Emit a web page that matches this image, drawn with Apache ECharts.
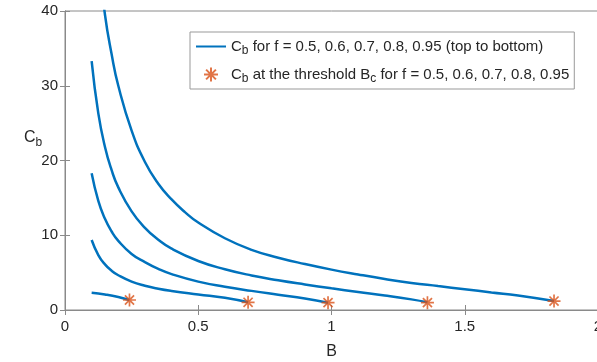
<!DOCTYPE html>
<html>
<head>
<meta charset="utf-8">
<script src="https://cdn.jsdelivr.net/npm/echarts@6/dist/echarts.min.js"></script>
<style>
  html, body { margin: 0; padding: 0; background: #fff; }
  #chart { width: 597px; height: 362px; }
</style>
</head>
<body>
<div id="chart"></div>
<script>
// Cb versus B, one curve per f value (0.5, 0.6, 0.7, 0.8, 0.95)
const curveF05 = [[0.10, 59], [0.125, 47.5], [0.15, 39.5], [0.175, 34.2], [0.2, 30.0], [0.25, 24.0],
  [0.3, 19.8], [0.35, 16.9], [0.4, 14.8], [0.45, 13.1], [0.5, 11.7], [0.6, 9.6], [0.7, 8.05],
  [0.8, 7.0], [0.9, 6.15], [1.0, 5.4], [1.1, 4.75], [1.2, 4.15], [1.3, 3.62], [1.4, 3.2],
  [1.5, 2.78], [1.6, 2.35], [1.7, 1.95], [1.835, 1.2]];
const curveF06 = [[0.10, 33.3], [0.125, 26.3], [0.15, 21.8], [0.175, 18.7], [0.2, 16.4], [0.25, 13.2],
  [0.3, 11.0], [0.35, 9.4], [0.4, 8.2], [0.5, 6.56], [0.6, 5.45], [0.7, 4.62], [0.8, 3.98],
  [0.9, 3.42], [1.0, 2.9], [1.1, 2.42], [1.2, 1.95], [1.3, 1.42], [1.36, 1.03]];
const curveF07 = [[0.10, 18.3], [0.125, 14.6], [0.15, 12.2], [0.175, 10.5], [0.2, 9.25], [0.25, 7.5],
  [0.3, 6.4], [0.35, 5.5], [0.4, 4.8], [0.5, 3.8], [0.6, 3.12], [0.7, 2.56], [0.8, 2.05],
  [0.9, 1.55], [0.987, 0.98]];
const curveF08 = [[0.10, 9.36], [0.125, 7.35], [0.15, 6.1], [0.175, 5.25], [0.2, 4.65], [0.25, 3.8],
  [0.3, 3.25], [0.35, 2.85], [0.4, 2.55], [0.5, 2.08], [0.6, 1.63], [0.687, 1.03]];
const curveF095 = [[0.10, 2.3], [0.15, 2.08], [0.2, 1.75], [0.242, 1.34]];

// Cb at the threshold Bc for each f
const thresholdB = [0.242, 0.687, 0.987, 1.36, 1.835];
const thresholdCb = [1.34, 1.03, 0.98, 0.98, 1.2];

const xTicks = [0, 0.5, 1, 1.5, 2];
const yTicks = [0, 10, 20, 30, 40];

const blue = '#0072BD';
const orange = '#D95319';
const axisGray = '#8a8a8a';
const textDark = '#262626';
const font = 'Liberation Sans, Arial, Helvetica, sans-serif';

const curves = [curveF05, curveF06, curveF07, curveF08, curveF095];
const thresholdPoints = thresholdB.map((b, i) => [b, thresholdCb[i]]);

const asterisk = 'path://M0,-10L0,10M-10,0L10,0M-7,-7L7,7M-7,7L7,-7';

const chart = echarts.init(document.getElementById('chart'), null, { renderer: 'canvas' });

const lineSeries = curves.map(data => ({
  name: 'curves',
  type: 'line',
  data: data,
  smooth: 0.5,
  symbol: 'none',
  clip: true,
  lineStyle: { color: blue, width: 2.5 },
  itemStyle: { color: blue },
  silent: true,
  z: 2
}));

const option = {
  backgroundColor: '#ffffff',
  animation: false,
  grid: {
    left: 65, right: -1, top: 11, bottom: 52,
    outerBoundsMode: 'none', containLabel: false,
    show: true, borderColor: axisGray, borderWidth: 1, backgroundColor: 'transparent'
  },
  xAxis: [{
    type: 'value', min: 0, max: 2, interval: 0.5, position: 'bottom',
    axisLine: { show: true, onZero: false, lineStyle: { color: axisGray, width: 1 } },
    axisTick: { show: true, inside: true, length: 5, lineStyle: { color: axisGray } },
    axisLabel: { margin: 9, color: textDark, fontSize: 15, fontFamily: font,
      formatter: v => xTicks.includes(v) ? String(v) : '' },
    splitLine: { show: false },
    name: 'B', nameLocation: 'middle', nameGap: 34,
    nameTextStyle: { color: textDark, fontSize: 16, fontFamily: font }
  }, {
    type: 'value', min: 0, max: 2, interval: 0.5, position: 'top',
    axisLine: { show: true, lineStyle: { color: axisGray, width: 1 } },
    axisTick: { show: true, inside: true, length: 5, lineStyle: { color: axisGray } },
    axisLabel: { show: false },
    splitLine: { show: false }
  }],
  yAxis: [{
    type: 'value', min: 0, max: 40, interval: 10, position: 'left',
    axisLine: { show: true, onZero: false, lineStyle: { color: axisGray, width: 1 } },
    axisTick: { show: true, inside: true, length: 5, lineStyle: { color: axisGray } },
    axisLabel: { margin: 7, color: textDark, fontSize: 15, fontFamily: font,
      formatter: v => yTicks.includes(v) ? String(v) : '' },
    splitLine: { show: false }
  }, {
    type: 'value', min: 0, max: 40, interval: 10, position: 'right',
    axisLine: { show: true, lineStyle: { color: axisGray, width: 1 } },
    axisTick: { show: true, inside: true, length: 5, lineStyle: { color: axisGray } },
    axisLabel: { show: false },
    splitLine: { show: false }
  }],
  legend: {
    orient: 'vertical',
    left: 190, top: 32,
    padding: [4, 5, 4, 5],
    itemGap: 7,
    itemWidth: 30, itemHeight: 14,
    borderColor: '#999', borderWidth: 1,
    backgroundColor: '#fff',
    data: [
      { name: 'curves', itemStyle: { color: 'rgba(0,0,0,0)', borderWidth: 0, opacity: 0 } },
      { name: 'threshold' }
    ],
    selectedMode: false,
    formatter: name => name === 'curves'
      ? '{n|C}{s|b}{n| for f = 0.5, 0.6, 0.7, 0.8, 0.95 (top to bottom)}'
      : '{n|C}{s|b}{n| at the threshold B}{s|c}{n| for f = 0.5, 0.6, 0.7, 0.8, 0.95}',
    textStyle: {
      color: textDark, fontFamily: font, fontSize: 15,
      rich: {
        n: { fontSize: 15, fontFamily: font, color: textDark, lineHeight: 17 },
        s: { fontSize: 12, fontFamily: font, color: textDark, lineHeight: 12, padding: [9, 0, 0, 0] }
      }
    }
  },
  graphic: [{
    type: 'text', left: 24, top: 126,
    style: {
      text: '{n|C}{s|b}',
      rich: {
        n: { fontSize: 16, fontFamily: font, fill: textDark, lineHeight: 18 },
        s: { fontSize: 12, fontFamily: font, fill: textDark, lineHeight: 12, padding: [11, 0, 0, 0] }
      }
    }
  }],
  series: [
    ...lineSeries,
    {
      name: 'threshold',
      type: 'scatter',
      data: thresholdPoints,
      symbol: asterisk,
      symbolSize: 13,
      itemStyle: { color: 'none', borderColor: orange, borderWidth: 1.7 },
      silent: true,
      z: 3
    }
  ]
};

chart.setOption(option);
</script>
</body>
</html>
